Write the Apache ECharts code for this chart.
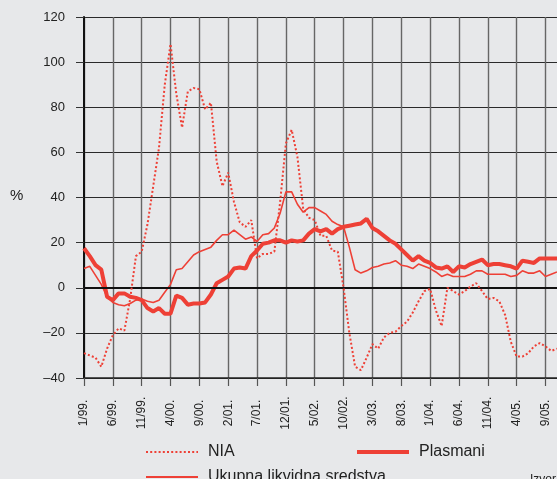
<!DOCTYPE html>
<html>
<head>
<meta charset="utf-8">
<script src="https://cdn.jsdelivr.net/npm/echarts@6/dist/echarts.min.js"></script>
<style>
  html, body { margin: 0; padding: 0; background: #e7e8ea; }
  #chart { width: 557px; height: 479px; }
</style>
</head>
<body>
<div id="chart"></div>
<script>
// months 1/99 .. 11/05
const months = [
  '1/99.', '2/99.', '3/99.', '4/99.', '5/99.', '6/99.', '7/99.', '8/99.', '9/99.', '10/99.', '11/99.', '12/99.',
  '1/00.', '2/00.', '3/00.', '4/00.', '5/00.', '6/00.', '7/00.', '8/00.', '9/00.', '10/00.', '11/00.', '12/00.',
  '1/01.', '2/01.', '3/01.', '4/01.', '5/01.', '6/01.', '7/01.', '8/01.', '9/01.', '10/01.', '11/01.', '12/01.',
  '1/02.', '2/02.', '3/02.', '4/02.', '5/02.', '6/02.', '7/02.', '8/02.', '9/02.', '10/02.', '11/02.', '12/02.',
  '1/03.', '2/03.', '3/03.', '4/03.', '5/03.', '6/03.', '7/03.', '8/03.', '9/03.', '10/03.', '11/03.', '12/03.',
  '1/04.', '2/04.', '3/04.', '4/04.', '5/04.', '6/04.', '7/04.', '8/04.', '9/04.', '10/04.', '11/04.', '12/04.',
  '1/05.', '2/05.', '3/05.', '4/05.', '5/05.', '6/05.', '7/05.', '8/05.', '9/05.', '10/05.', '11/05.'
]

const nia = [
  -29, -30, -31, -35, -27, -21, -18, -19, -5, 14, 16, 28,
  45, 62, 90, 108, 86, 71, 87, 88.5, 88, 79, 82, 56,
  45, 51, 38, 29, 27, 30, 13, 15, 15, 16, 38, 64,
  70, 58, 35, 31, 30, 23, 23, 16.5, 16, 0, -20, -35,
  -36.5, -31, -25, -27, -22, -20, -19.5, -17, -15, -11, -6, -1.5,
  -0.5, -10, -17, 0, -1.5, -3, -1.5, 0.5, 2, -1.5, -5, -4.5,
  -6, -12, -24, -30.5, -30.5, -29, -26, -24.5, -26, -28, -27
]

const plasmani = [
  17.5, 14, 10, 8, -4, -5.5, -2.5, -2.5, -4, -4.5, -5.5, -9,
  -10.5, -9, -11.5, -11.5, -3.5, -4.5, -7.5, -7, -7, -6.5, -3, 2,
  3.5, 5, 8.5, 9, 8.5, 14, 16.5, 19.5, 20, 21, 21, 20,
  21, 20.5, 21, 24, 26, 25, 26, 24, 26, 27, 27.5, 28,
  28.5, 30.5, 26.5, 25, 23, 21, 19.5, 17, 14.5, 12, 14, 12,
  11, 9, 8.5, 9.5, 7, 9.5, 9, 10.5, 11.5, 12.5, 10, 10.5,
  10.5, 10, 9.5, 8.5, 12, 11.5, 11, 13, 13, 13, 13
]

const ukupna = [
  8.5, 9.5, 5.5, 1.5, -4, -6.5, -7.5, -8, -7, -5.5, -5, -6,
  -6.5, -5.5, -2, 1.5, 8, 8.5, 11.5, 14.5, 16, 17, 18, 21,
  23.5, 23.5, 25.5, 23.5, 21.5, 22.5, 20.5, 23.5, 24, 26.5, 33, 42.5,
  42.5, 37, 33.5, 35.5, 35.5, 34, 32.5, 29.5, 28, 27, 18, 8,
  6.5, 7.5, 9, 9.5, 10.5, 11, 12, 10, 9.5, 8.5, 10.5, 9.5,
  8.5, 7, 5, 6, 5, 5, 5, 6, 7.5, 7.5, 6, 6,
  6, 6, 5, 5.5, 7.5, 6.5, 6.5, 7.5, 5, 6, 7
]

const red = '#ee4036'
const font = 'Liberation Sans, Arial, sans-serif'

function legendItem(name, left, top, lineWidth) {
  return {
    data: [name],
    left: left,
    top: top,
    padding: 0,
    itemWidth: 52,
    itemHeight: 14,
    itemStyle: { opacity: 0 },
    lineStyle: { width: lineWidth },
    textStyle: { fontSize: 16, color: '#222', padding: [0, 0, 0, 5], fontFamily: font }
  }
}

const chart = echarts.init(document.getElementById('chart'))
chart.setOption({
  backgroundColor: '#e7e8ea',
  animation: false,
  textStyle: { fontFamily: font },
  grid: { left: 84, right: 0, top: 17, bottom: 101 },
  legend: [
    legendItem('NIA', 145, 444, 2),
    legendItem('Plasmani', 355, 444, 4),
    legendItem('Ukupna likvidna sredstva', 145, 469, 2)
  ],
  graphic: [
    { type: 'text', left: 10, top: 188, style: { text: '%', fontSize: 15, fill: '#222', fontFamily: font } },
    { type: 'text', left: 530, top: 474, style: { text: 'Izvor: NBS', fontSize: 12, fill: '#222', fontFamily: font } }
  ],
  xAxis: {
    type: 'category',
    data: months,
    boundaryGap: false,
    axisLine: { onZero: false, lineStyle: { color: '#222', width: 1.5 } },
    axisTick: { interval: 4, length: 8, lineStyle: { color: '#555', width: 1.2 } },
    axisLabel: {
      interval: 4,
      rotate: 90,
      align: 'center',
      margin: 35,
      fontSize: 12,
      color: '#222'
    },
    splitLine: { show: true, interval: 4, lineStyle: { color: '#666', width: 1.4 } }
  },
  yAxis: {
    type: 'value',
    min: -40,
    max: 120,
    interval: 20,
    axisLine: { show: true, lineStyle: { color: '#111', width: 2 } },
    axisTick: { show: true, length: 8, lineStyle: { color: '#333' } },
    axisLabel: {
      margin: 19,
      fontSize: 13,
      color: '#222',
      formatter: v => String(v).replace('-', '\u2013')
    },
    splitLine: { lineStyle: { color: '#2a2a2a', width: 1 } }
  },
  series: [
    {
      name: 'Ukupna likvidna sredstva',
      type: 'line',
      data: ukupna,
      symbol: 'none',
      lineStyle: { color: red, width: 1.6 },
      itemStyle: { color: red },
      markLine: {
        silent: true,
        symbol: 'none',
        label: { show: false },
        lineStyle: { color: '#111', width: 2, type: 'solid' },
        data: [{ yAxis: 0 }]
      },
      z: 3
    },
    {
      name: 'Plasmani',
      type: 'line',
      data: plasmani,
      symbol: 'none',
      lineStyle: { color: red, width: 4 },
      itemStyle: { color: red },
      z: 4
    },
    {
      name: 'NIA',
      type: 'line',
      data: nia,
      symbol: 'none',
      lineStyle: { color: red, width: 2, type: [2, 2.2] },
      itemStyle: { color: red },
      z: 5
    }
  ]
})
</script>
</body>
</html>
